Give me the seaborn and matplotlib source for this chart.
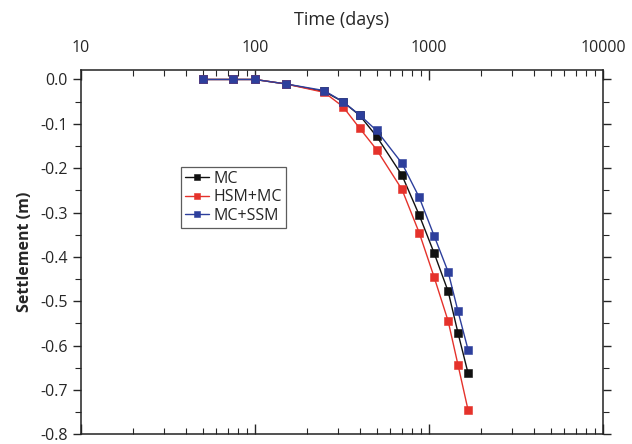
import pandas as pd
import matplotlib.pyplot as plt
import matplotlib.ticker as mticker
import seaborn as sns

# datos
time_days = [50, 75, 100, 150, 250, 320, 400, 500, 700, 880, 1070, 1290, 1470, 1680]
mc = [0.0, 0.0, 0.0, -0.010, -0.027, -0.050, -0.081, -0.128, -0.216, -0.306, -0.391, -0.478, -0.572, -0.663]
hsm_mc = [0.0, 0.0, 0.0, -0.010, -0.029, -0.061, -0.110, -0.158, -0.248, -0.346, -0.445, -0.545, -0.644, -0.746]
mc_ssm = [0.0, 0.0, 0.0, -0.010, -0.025, -0.050, -0.080, -0.115, -0.189, -0.266, -0.352, -0.434, -0.523, -0.610]

series = {"MC": mc, "HSM+MC": hsm_mc, "MC+SSM": mc_ssm}
colores = {"MC": "#111111", "HSM+MC": "#e5322b", "MC+SSM": "#2d3f9c"}

sns.set_style("ticks")
plt.rcParams["font.family"] = ["Open Sans", "DejaVu Sans"]
plt.rcParams["axes.unicode_minus"] = False

fig = plt.figure(figsize=(6.32, 4.44), dpi=100)
ax = fig.add_axes([0.128, 0.022, 0.826, 0.820])

for nombre, valores in series.items():
    df = pd.DataFrame({"t": time_days, "s": valores})
    sns.lineplot(data=df, x="t", y="s", ax=ax, color=colores[nombre], label=nombre,
                 marker="s", markersize=5.6, markeredgewidth=0.4,
                 markeredgecolor=colores[nombre], linewidth=1.0, clip_on=False)

ax.set_xscale("log")
ax.set_xlim(10, 10000)
ax.set_ylim(-0.8, 0.021)
ax.xaxis.set_major_formatter(mticker.FuncFormatter(lambda v, p: f"{v:g}"))
ax.xaxis.set_minor_formatter(mticker.NullFormatter())
ax.yaxis.set_major_locator(mticker.MultipleLocator(0.1))
ax.yaxis.set_minor_locator(mticker.MultipleLocator(0.05))
ax.yaxis.set_major_formatter(mticker.FormatStrFormatter("%.1f"))

ax.tick_params(axis="x", which="both", direction="in", top=True, bottom=True,
               labeltop=True, labelbottom=False, labelsize=11.5, pad=10)
ax.tick_params(axis="x", which="major", length=7, width=1)
ax.tick_params(axis="x", which="minor", length=4, width=0.8)
ax.tick_params(axis="y", which="both", direction="out", left=True, right=True,
               labelleft=True, labelsize=11.5)
ax.tick_params(axis="y", which="major", length=6, width=1)
ax.tick_params(axis="y", which="minor", length=4, width=0.8)

ax.xaxis.set_label_position("top")
ax.set_xlabel("Time (days)", fontsize=13, labelpad=11)
ax.set_ylabel("Settlement (m)", fontsize=11.5, fontweight="bold", labelpad=5)

for sp in ax.spines.values():
    sp.set_linewidth(1.1)
    sp.set_color("#222222")

leg = ax.legend(loc="upper left", bbox_to_anchor=(0.192, 0.734), borderaxespad=0,
                fontsize=11.5, frameon=True, fancybox=False, edgecolor="#333333",
                handlelength=1.5, handletextpad=0.3, labelspacing=0.15,
                borderpad=0.25, markerscale=0.85)
leg.get_frame().set_linewidth(0.9)

plt.savefig("out.png", dpi=100)
plt.close()
